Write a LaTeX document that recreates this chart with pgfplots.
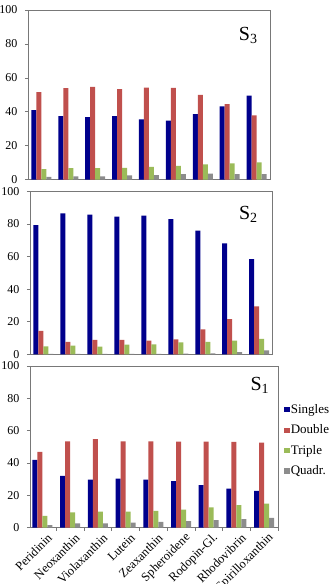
\documentclass[border=0pt]{standalone}
\usepackage{pgfplots}
\pgfplotsset{compat=1.18}
\usepackage{fontspec}
\setmainfont{Liberation Serif}

\definecolor{cSingles}{RGB}{0,0,140}
\definecolor{cDouble}{RGB}{192,80,77}
\definecolor{cTriple}{RGB}{155,187,89}
\definecolor{cQuadr}{RGB}{140,140,140}
\definecolor{cFrame}{RGB}{120,120,120}

% S3 excitation composition (%)
\pgfplotstableread{
idx Singles Double Triple Quadr
0 41.0 51.5 6.1 1.6
1 37.4 53.9 6.7 1.9
2 36.8 54.7 6.7 1.9
3 37.4 53.3 6.9 2.4
4 35.5 54.2 7.5 2.6
5 34.8 54.0 8.1 3.2
6 38.6 49.9 8.9 3.4
7 43.1 44.5 9.5 3.2
8 49.5 37.8 10.1 3.2
}\tableSthree

% S2 excitation composition (%)
\pgfplotstableread{
idx Singles Double Triple Quadr
0 79.2 14.3 4.9 0.2
1 86.5 7.6 5.3 0.2
2 85.7 8.8 4.7 0.2
3 84.5 8.8 5.9 0.3
4 85.1 8.4 6.1 0.3
5 82.9 9.2 7.3 0.4
6 75.9 15.3 7.6 0.6
7 68.0 21.6 8.4 1.4
8 58.4 29.4 9.4 2.4
}\tableStwo

% S1 excitation composition (%)
\pgfplotstableread{
idx Singles Double Triple Quadr
0 41.9 46.8 7.2 1.4
1 32.0 53.4 9.3 2.5
2 29.7 54.8 9.9 2.5
3 30.3 53.4 9.9 3.1
4 29.7 53.4 10.3 3.5
5 28.7 53.2 11.1 3.9
6 26.2 53.2 12.4 4.5
7 24.1 53.0 13.8 5.2
8 22.7 52.6 14.8 6.0
}\tableSone

\pgfplotsset{
  panel/.style={
    scale only axis,
    ybar=0pt,
    bar width=5pt,
    ymin=0, ymax=100,
    ytick={0,20,...,100},
    axis line style={draw=cFrame, line width=0.8pt},
    tick style={draw=cFrame, line width=0.6pt},
    ytick pos=left,
    tick align=outside,
    major tick length=3pt,
    xtick=\empty,
    /pgf/number format/assume math mode=true,
    ticklabel style={font=\fontsize{12}{14}\selectfont},
    yticklabel style={xshift=-4pt},
  },
  sqleg/.style={legend image code/.code={\fill[##1] (0pt,-2.6pt) rectangle (5.2pt,2.6pt);}},
}

\begin{document}
\begin{tikzpicture}
\useasboundingbox (0pt,0pt) rectangle (334pt,-584pt);

% S3
\begin{axis}[panel, at={(28pt,-179.5pt)}, anchor=south west,
  width=242pt, height=169.5pt, xmin=-0.5, xmax=8.5]
  \addplot[draw=none, fill=cSingles] table[x=idx, y=Singles] {\tableSthree};
  \addplot[draw=none, fill=cDouble]  table[x=idx, y=Double]  {\tableSthree};
  \addplot[draw=none, fill=cTriple]  table[x=idx, y=Triple]  {\tableSthree};
  \addplot[draw=none, fill=cQuadr]   table[x=idx, y=Quadr]   {\tableSthree};
  \node at (rel axis cs:0.91,0.85) {\fontsize{20}{24}\selectfont S\textsubscript{3}};
\end{axis}

% S2
\begin{axis}[panel, at={(30pt,-354.3pt)}, anchor=south west,
  width=242.7pt, height=163pt, xmin=-0.5, xmax=8.5]
  \addplot[draw=none, fill=cSingles] table[x=idx, y=Singles] {\tableStwo};
  \addplot[draw=none, fill=cDouble]  table[x=idx, y=Double]  {\tableStwo};
  \addplot[draw=none, fill=cTriple]  table[x=idx, y=Triple]  {\tableStwo};
  \addplot[draw=none, fill=cQuadr]   table[x=idx, y=Quadr]   {\tableStwo};
  \node at (rel axis cs:0.90,0.86) {\fontsize{20}{24}\selectfont S\textsubscript{2}};
\end{axis}

% S1
\begin{axis}[panel, at={(30pt,-527.5pt)}, anchor=south west,
  width=248pt, height=161.5pt, xmin=-0.45, xmax=8.5,
  xtick={0,...,8},
  xticklabels={Peridinin,Neoxanthin,Violaxanthin,Lutein,Zeaxanthin,Spheroidene,Rodopin-Gl.,Rhodovibrin,Spirilloxanthin},
  xtick pos=bottom,
  major x tick style={draw=none},
  minor xtick={-0.5,0.5,...,8.5},
  minor x tick style={draw=cFrame, line width=0.6pt},
  minor tick length=3pt,
  xticklabel style={rotate=45, anchor=east, inner sep=0pt, xshift=1.5pt, yshift=-9pt,
    font=\fontsize{12.5}{14}\selectfont},
  legend style={at={(axis description cs:1.025,0.77)}, anchor=north west,
    draw=none, fill=none, inner sep=0pt, row sep=7.5pt,
    font=\fontsize{13}{15}\selectfont,
    nodes={inner sep=1.2pt}},
  legend cell align=left]
  \addplot[draw=none, fill=cSingles, sqleg] table[x=idx, y=Singles] {\tableSone};
  \addplot[draw=none, fill=cDouble, sqleg]  table[x=idx, y=Double]  {\tableSone};
  \addplot[draw=none, fill=cTriple, sqleg]  table[x=idx, y=Triple]  {\tableSone};
  \addplot[draw=none, fill=cQuadr, sqleg]   table[x=idx, y=Quadr]   {\tableSone};
  \legend{Singles,Double,Triple,Quadr.}
  \node at (rel axis cs:0.927,0.88) {\fontsize{20}{24}\selectfont S\textsubscript{1}};
\end{axis}
\end{tikzpicture}
\end{document}
